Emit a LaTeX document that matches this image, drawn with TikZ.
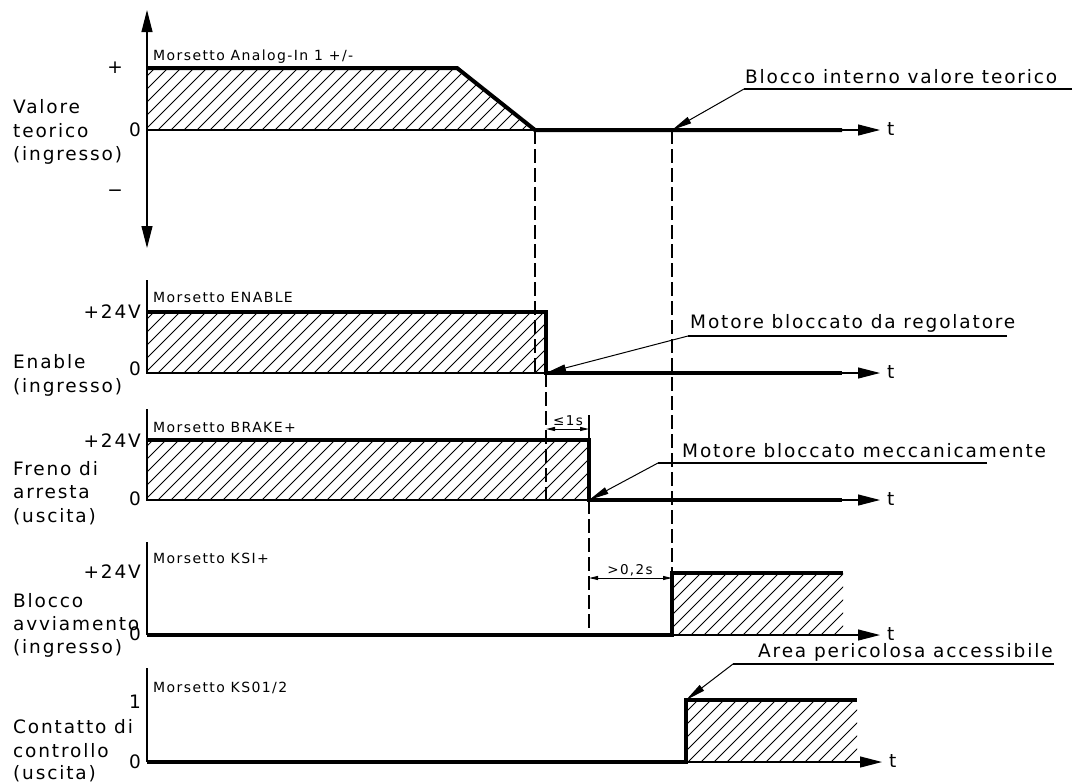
\documentclass[tikz,border=0pt]{standalone}
\usepackage{fontspec}
\setmainfont{DejaVu Sans}[LetterSpace=10]
\usetikzlibrary{arrows.meta}
\tikzset{
  x=1pt, y=-1pt,
  big/.style={font=\fontsize{18.5}{22}\selectfont, inner sep=0pt},
  lab/.style={big, anchor=base west},
  lev/.style={big, anchor=base east},
  mor/.style={font=\fontsize{14}{16}\selectfont, inner sep=0pt, anchor=base west},
  sml/.style={font=\fontsize{13.5}{16}\selectfont, inner sep=0pt, anchor=base},
  sig/.style={line width=4pt, line join=miter},
  thinl/.style={line width=1.1pt},
  hat/.style={line width=0.8pt},
  dsh/.style={line width=1.2pt, dash pattern=on 14pt off 5pt},
  axarrow/.style={thinl, -{Triangle[length=22pt,width=11pt]}},
  axboth/.style={thinl, {Triangle[length=22pt,width=11pt]}-{Triangle[length=22pt,width=11pt]}},
  leader/.style={line width=1pt, -{Triangle[length=20pt,width=7pt]}},
  dimarr/.style={line width=1pt, {Triangle[length=9pt,width=4pt]}-{Triangle[length=9pt,width=4pt]}},
}
\begin{document}
\begin{tikzpicture}
\useasboundingbox (0,0) rectangle (1087,782);

% ---------------- Panel 1: Valore teorico ----------------
\coordinate (a1top) at (147,10);
\coordinate (a1bot) at (147,248);
\coordinate (p1s) at (147,68);
\coordinate (p1k) at (457,68);
\coordinate (p1z) at (535,130);
\coordinate (p1e) at (842,130);
\coordinate (p1t) at (880,130);
\coordinate (p1o) at (147,130);
\begin{scope}
  \clip (p1s) -- (p1k) -- (p1z) -- (p1o) -- cycle;
  \foreach \x in {80,93,...,545} \draw[hat] (\x,130) -- ++(70,-70);
\end{scope}
\draw[axboth] (a1top) -- (a1bot);
\draw[thinl] (p1o) -- (p1z);
\draw[sig] (p1s) -- (p1k) -- (p1z) -- (p1e);
\draw[axarrow] (p1e) -- (p1t);
\node[mor] (m1) at (153,60) {Morsetto Analog-In 1 +/-};
\node[big] (plus) at (115,68) {+};
\node[lev] (z1) at (141,136) {0};
\node[big] (minus) at (115,193) {−};
\node[lab] (v1) at (13,113) {Valore};
\node[lab] (v2) at (13,137) {teorico};
\node[lab] (v3) at (13,160) {(ingresso)};
\node[lab] (t1) at (887,135) {t};

% ---------------- Panel 2: Enable ----------------
\coordinate (a2) at (147,280);
\coordinate (p2s) at (147,312);
\coordinate (p2k) at (546,312);
\coordinate (p2z) at (546,373);
\coordinate (p2e) at (842,373);
\coordinate (p2t) at (880,373);
\coordinate (p2o) at (147,373);
\begin{scope}
  \clip (p2s) rectangle (p2z);
  \foreach \x in {80,93,...,560} \draw[hat] (\x,373) -- ++(70,-70);
\end{scope}
\draw[thinl] (a2) -- (p2o) -- (p2z);
\draw[sig] (p2s) -- (p2k) -- (p2z) -- (p2e);
\draw[axarrow] (p2e) -- (p2t);
\node[mor] (m2) at (153,302) {Morsetto ENABLE};
\node[lev] (h2) at (141,318) {+24V};
\node[lev] (z2) at (141,375) {0};
\node[lab] (e1) at (13,368) {Enable};
\node[lab] (e2) at (13,392) {(ingresso)};
\node[lab] (t2) at (887,378) {t};

% ---------------- Panel 3: Freno ----------------
\coordinate (a3) at (147,409);
\coordinate (p3s) at (147,440);
\coordinate (p3k) at (589,440);
\coordinate (p3z) at (589,500);
\coordinate (p3e) at (842,500);
\coordinate (p3t) at (880,500);
\coordinate (p3o) at (147,500);
\begin{scope}
  \clip (p3s) rectangle (p3z);
  \foreach \x in {80,93,...,600} \draw[hat] (\x,500) -- ++(70,-70);
\end{scope}
\draw[thinl] (a3) -- (p3o) -- (p3z);
\draw[sig] (p3s) -- (p3k) -- (p3z) -- (p3e);
\draw[axarrow] (p3e) -- (p3t);
\node[mor] (m3) at (153,432) {Morsetto BRAKE+};
\node[lev] (h3) at (141,447) {+24V};
\node[lev] (z3) at (141,505) {0};
\node[lab] (f1) at (13,475) {Freno di};
\node[lab] (f2) at (13,498) {arresta};
\node[lab] (f3) at (13,522) {(uscita)};
\node[lab] (t3) at (887,505) {t};

% ---------------- Panel 4: KSI ----------------
\coordinate (a4) at (147,542);
\coordinate (p4o) at (147,635);
\coordinate (p4k) at (672,635);
\coordinate (p4r) at (672,573);
\coordinate (p4e) at (843,573);
\coordinate (p4t) at (880,635);
\begin{scope}
  \clip (p4r) rectangle (843,635);
  \foreach \x in {600,613,...,850} \draw[hat] (\x,635) -- ++(70,-70);
\end{scope}
\draw[thinl] (a4) -- (p4o);
\draw[axarrow] (p4k) -- (p4t);
\draw[sig] (p4o) -- (p4k) -- (p4r) -- (p4e);
\node[mor] (m4) at (153,563) {Morsetto KSI+};
\node[lev] (h4) at (141,578) {+24V};
\node[lev] (z4) at (141,640) {0};
\node[lab] (b1) at (13,607) {Blocco};
\node[lab] (b2) at (13,630) {avviamento};
\node[lab] (b3) at (13,653) {(ingresso)};
\node[lab] (t4) at (887,640) {t};

% ---------------- Panel 5: KS01/2 ----------------
\coordinate (a5) at (147,668);
\coordinate (p5o) at (147,762);
\coordinate (p5k) at (686,762);
\coordinate (p5r) at (686,700);
\coordinate (p5e) at (857,700);
\coordinate (p5t) at (882,762);
\begin{scope}
  \clip (p5r) rectangle (857,762);
  \foreach \x in {610,623,...,865} \draw[hat] (\x,762) -- ++(70,-70);
\end{scope}
\draw[thinl] (a5) -- (p5o);
\draw[axarrow] (p5k) -- (p5t);
\draw[sig] (p5o) -- (p5k) -- (p5r) -- (p5e);
\node[mor] (m5) at (153,692) {Morsetto KS01/2};
\node[lev] (h5) at (141,708) {1};
\node[lev] (z5) at (141,768) {0};
\node[lab] (c1) at (13,733) {Contatto di};
\node[lab] (c2) at (13,757) {controllo};
\node[lab] (c3) at (13,779) {(uscita)};
\node[lab] (t5) at (889,767) {t};

% ---------------- Dashed time markers ----------------
\draw[dsh] (p1z) -- (535,373);
\draw[dsh] (p2z) -- (546,500);
\draw[dsh] (p3z) -- (589,635);
\coordinate (d4top) at (672,130);
\draw[dsh] (d4top) -- (p4r);

% ---------------- Dimensions ----------------
\coordinate (dA) at (546,429);
\coordinate (dB) at (589,429);
\coordinate (dBt) at (589,415);
\draw[thinl] (dBt) -- (p3k);
\draw[dimarr] (dA) -- (dB);
\node[sml] (le1) at (568,425) {≤1s};
\coordinate (dC) at (589,578);
\coordinate (dD) at (672,578);
\draw[dimarr] (dC) -- (dD);
\node[sml] (gt02) at (630,574) {>0,2s};

% ---------------- Annotations ----------------
\node[lab] (n1) at (745,83) {Blocco interno valore teorico};
\coordinate (u1s) at (744,89);
\coordinate (u1e) at (1072,89);
\draw[thinl] (u1e) -- (u1s);
\draw[leader] (u1s) -- (d4top);

\node[lab] (n2) at (690,328) {Motore bloccato da regolatore};
\coordinate (u2s) at (688,336);
\coordinate (u2e) at (1007,336);
\draw[thinl] (u2e) -- (u2s);
\draw[leader] (u2s) -- (p2z);

\node[lab] (n3) at (682,457) {Motore bloccato meccanicamente};
\coordinate (u3s) at (658,463);
\coordinate (u3e) at (987,463);
\draw[thinl] (u3e) -- (u3s);
\draw[leader] (u3s) -- (p3z);

\node[lab] (n4) at (758,657) {Area pericolosa accessibile};
\coordinate (u4s) at (733,664);
\coordinate (u4e) at (1054,664);
\draw[thinl] (u4e) -- (u4s);
\draw[leader] (u4s) -- (p5r);
\end{tikzpicture}
\end{document}
